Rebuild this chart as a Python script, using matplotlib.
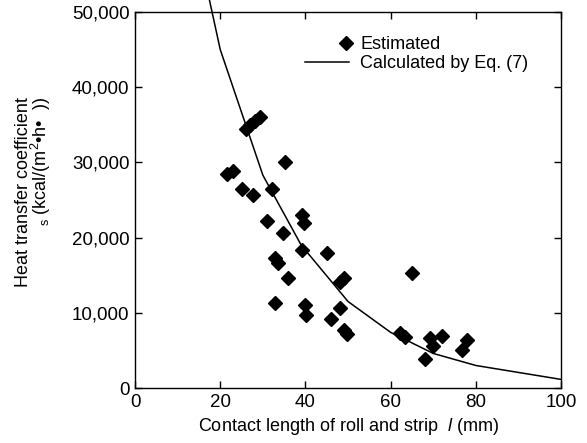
import numpy as np
from matplotlib import pyplot as plt
from matplotlib.ticker import FuncFormatter
from matplotlib.legend_handler import HandlerLine2DCompound

plt.rcParams['font.family'] = ['Liberation Sans', 'DejaVu Sans']
plt.rcParams['mathtext.fontset'] = 'custom'
plt.rcParams['mathtext.rm'] = 'Liberation Sans'
plt.rcParams['mathtext.it'] = 'Liberation Sans:italic'

# measured points (Estimated)
est_l = [21.5, 23.0, 25.0, 27.8, 26.0, 27.0, 28.2, 29.3, 35.2, 32.1,
         30.9, 39.1, 39.7, 34.8, 39.1, 45.1, 32.9, 33.6, 36.0, 48.1,
         49.1, 32.9, 39.9, 40.1, 48.0, 45.9, 49.1, 49.7, 64.9, 62.2,
         63.4, 69.2, 72.0, 70.0, 68.1, 77.9, 76.7]
est_h = [28500, 28800, 26500, 25700, 34500, 35000, 35500, 36000, 30100, 26500,
         22200, 23000, 22000, 20600, 18400, 18000, 17300, 16600, 14600, 14100,
         14600, 11300, 11000, 9700, 10600, 9200, 7700, 7200, 15300, 7300,
         6800, 6600, 6900, 5600, 3900, 6400, 5000]

# Eq. (7) curve
calc_l = [15, 20, 30, 39, 50, 60, 70, 80, 100]
calc_h = [58000, 45000, 28300, 19000, 11500, 7400, 4600, 3000, 1150]


class MarkerAtEnd(HandlerLine2DCompound):
    # single legend marker placed next to the label, like the original
    def get_xdata(self, legend, xdescent, ydescent, width, height, fontsize):
        xdata = np.array([-xdescent, width - xdescent])
        xm = np.array([width - xdescent - 0.15 * fontsize])
        return xdata, xm


fig = plt.figure(figsize=(5.87, 4.43), dpi=100)
ax = fig.add_axes([0.23, 0.124, 0.726, 0.849])

pts, = ax.plot(est_l, est_h, 'D', color='black', markersize=7.5, label='Estimated')
ax.plot(calc_l, calc_h, '-', color='black', linewidth=1.1,
        label='Calculated by Eq. (7)', clip_on=False)

ax.set_xlim(0, 100)
ax.set_ylim(0, 50000)
ax.set_xticks([0, 20, 40, 60, 80, 100])
ax.set_yticks([0, 10000, 20000, 30000, 40000, 50000])
ax.yaxis.set_major_formatter(FuncFormatter(lambda v, p: f"{int(v):,}"))
ax.tick_params(direction='in', length=5, width=1, top=True, right=True,
               labelsize=13.5, pad=4)
for s in ax.spines.values():
    s.set_linewidth(1)

ax.set_xlabel(r"Contact length of roll and strip  $\it{l}$ (mm)", fontsize=13, labelpad=4)
fig.text(0.058, 0.567, "Heat transfer coefficient\n" + r"$_{\mathrm{s}}$ (kcal/(m$^2$•h•  ))",
         rotation=90, ha='center', va='center', multialignment='right',
         fontsize=13, linespacing=0.85)

ax.legend(loc='upper left', bbox_to_anchor=(298 / 587, 1 - 29 / 443),
          bbox_transform=fig.transFigure, frameon=False, borderaxespad=0,
          fontsize=13, handlelength=2.4, handletextpad=0.65, labelspacing=0.1,
          handler_map={pts: MarkerAtEnd()})

plt.savefig('out.png', dpi=100)
